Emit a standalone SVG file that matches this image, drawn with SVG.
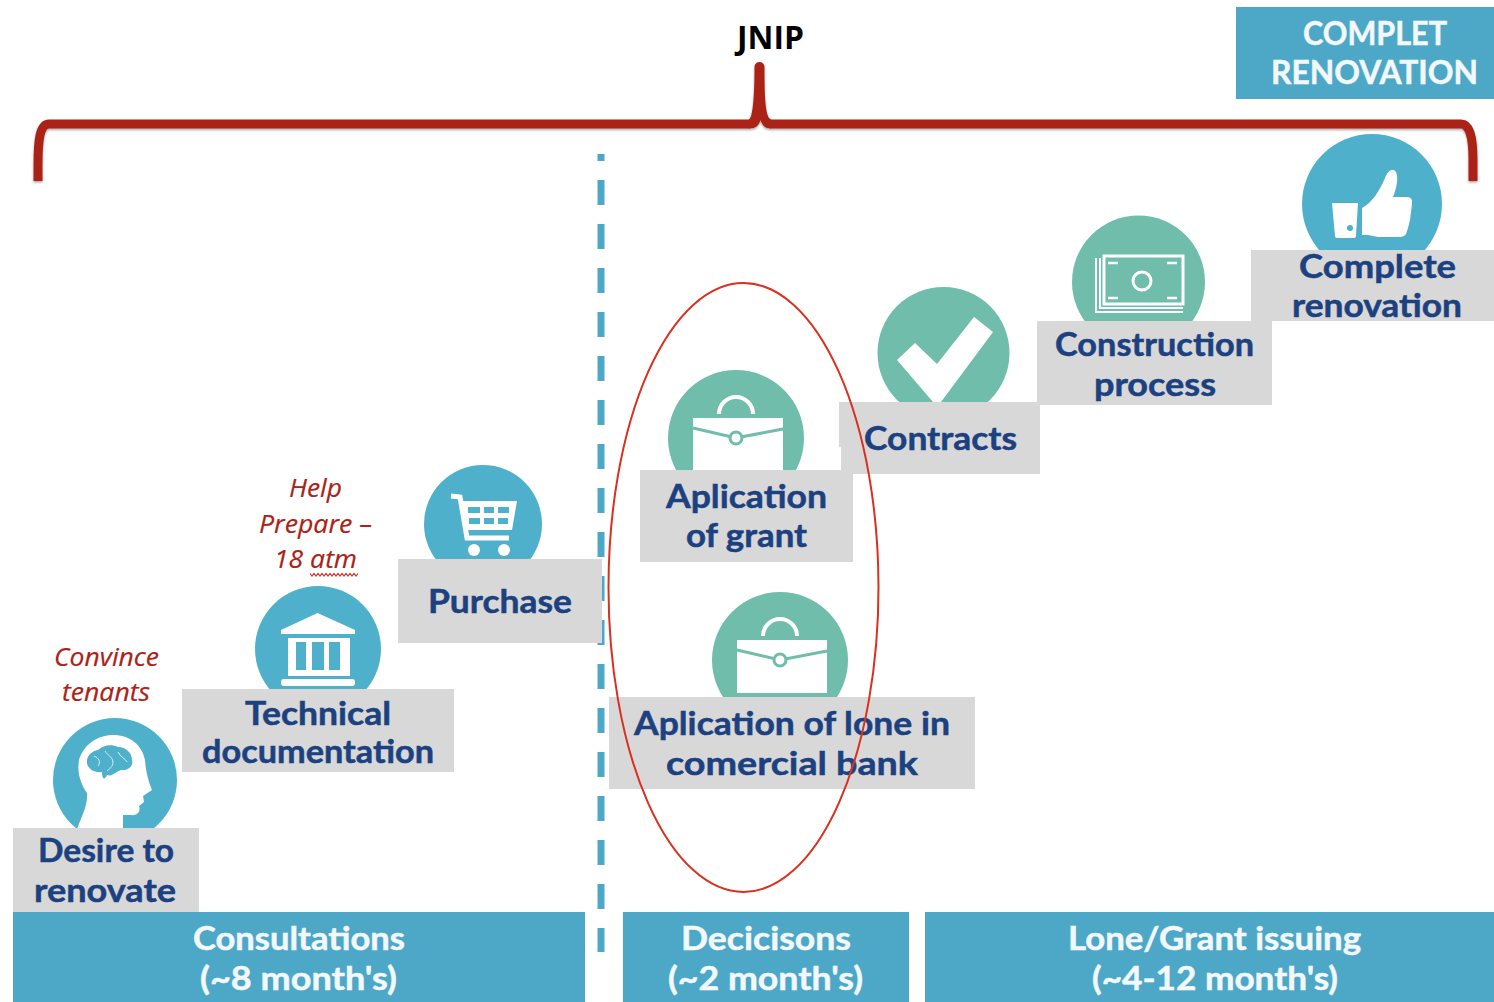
<svg xmlns="http://www.w3.org/2000/svg" xmlns:xlink="http://www.w3.org/1999/xlink" width="1494" height="1002" viewBox="0 0 1494 1002">
<style>
.box{fill:#d8d8d8}
.bar{fill:#4da8c7}
.blue{fill:#4fb0cb}
.teal{fill:#6fbdaa}
.w{fill:#fff}
.lbl{font-family:"Lato","Liberation Sans",sans-serif;font-weight:700;font-size:33px;fill:#1c4180;stroke:#1c4180;stroke-width:.5px}
.hd{font-family:"Lato","Liberation Sans",sans-serif;font-weight:700;font-size:33px;fill:#f2f8fb;stroke:#f2f8fb;stroke-width:.5px}
.note{font-family:"Open Sans","Liberation Sans",sans-serif;font-style:italic;font-size:26px;fill:#ab2317;stroke:#ab2317;stroke-width:.2px}
.jn{font-family:"Open Sans","Liberation Sans",sans-serif;font-weight:700;font-size:33px;fill:#000}
</style>
<defs>
<filter id="soft" x="-2%" y="-10%" width="104%" height="130%"><feDropShadow dx="0" dy="1.5" stdDeviation="1" flood-color="#000" flood-opacity=".35"/></filter>
<g id="brief">
<path d="M719,414A17,17 0 0 1 753,414" fill="none" stroke="#fff" stroke-width="4"/>
<rect x="693" y="418" width="90" height="53" fill="#fff"/>
<path d="M693,428L736,438L783,429" fill="none" stroke="#6fbdaa" stroke-width="3"/>
<circle cx="736" cy="438" r="6" fill="#fff" stroke="#6fbdaa" stroke-width="3"/>
</g>
</defs>
<rect width="1494" height="1002" fill="#fff"/>
<g id="connectors-back">
<path d="M601,154V952" fill="none" stroke="#4da8c7" stroke-width="7" stroke-dasharray="25 19" stroke-dashoffset="18"/>
<g id="bracket" filter="url(#soft)">
<path d="M38,181V165C38,140 40,124 49,124H750M770,124H1461C1469,124 1473,135 1473,160V181" fill="none" stroke="#ab2317" stroke-width="9"/>
<path d="M754.5,67A5,5 0 0 1 764.5,67C764.5,95 765,117 771,119.5V128.5C765,128.5 762,125 760.5,120C759,125 756,128.5 749,128.5V119.5C753,117 754.5,95 754.5,67Z" fill="#ab2317"/>
</g>
</g>
<g id="title"><text class="jn" x="737" y="49" textLength="67" lengthAdjust="spacingAndGlyphs">JNIP</text></g>
<g id="complet-header">
<rect class="bar" x="1236" y="7" width="258" height="92"/>
<text class="hd" x="1303" y="45" textLength="144" lengthAdjust="spacingAndGlyphs">COMPLET</text>
<text class="hd" x="1271" y="84" textLength="207" lengthAdjust="spacingAndGlyphs">RENOVATION</text>
</g>
<g id="desire">
<circle class="blue" cx="115" cy="780" r="62"/>
<path class="w" d="M77,829C82,815 88,805 87,793C80,783 77,772 79,760C84,744 98,735 113,735C130,735 142,745 145,760C146,772 148,780 152,790L143,796L144,802L139,806C141,812 137,816 130,815L123,815L123,829Z"/>
<path class="blue" d="M87,763C86,756 92,751 98,750C103,745 112,744 118,747C126,747 132,753 132,760C134,766 128,771 121,770C115,772 112,777 107,775C105,780 102,780 102,772C96,773 88,770 87,763Z"/>
<path d="M94,756C99,758 101,762 98,766M105,751C108,756 112,756 113,762C113,767 109,769 107,771M118,752C120,757 125,758 127,762" fill="none" stroke="#d6eef4" stroke-width="1"/>
<rect class="box" x="13" y="828" width="186" height="84"/>
<text class="lbl" x="38" y="862" textLength="136" lengthAdjust="spacingAndGlyphs">Desire to</text>
<text class="lbl" x="34" y="902" textLength="142" lengthAdjust="spacingAndGlyphs">renovate</text>
</g>
<g id="desire-note">
<text class="note" x="54" y="666" textLength="105" lengthAdjust="spacingAndGlyphs">Convince</text>
<text class="note" x="62" y="701" textLength="88" lengthAdjust="spacingAndGlyphs">tenants</text>
</g>
<g id="technical">
<circle class="blue" cx="318" cy="649" r="63"/>
<path class="w" d="M317.5,613L355,630V634H281V630Z"/>
<path class="w" fill-rule="evenodd" d="M288,638H350V676H288ZM296,642V670H306V642ZM312,642V670H324V642ZM329,642V670H340V642Z"/>
<rect class="w" x="281" y="679" width="74" height="7" rx="3"/>
<rect class="box" x="182" y="689" width="272" height="83"/>
<text class="lbl" x="245" y="725" textLength="146" lengthAdjust="spacingAndGlyphs">Technical</text>
<text class="lbl" x="202" y="763" textLength="232" lengthAdjust="spacingAndGlyphs">documentation</text>
</g>
<g id="technical-note">
<text class="note" x="289" y="497" textLength="53" lengthAdjust="spacingAndGlyphs">Help</text>
<text class="note" x="259" y="533" textLength="113" lengthAdjust="spacingAndGlyphs">Prepare –</text>
<text class="note" x="274" y="568" textLength="83" lengthAdjust="spacingAndGlyphs">18 atm</text>
<path d="M310,573.5l2,2.5l2,-2.5l2,2.5l2,-2.5l2,2.5l2,-2.5l2,2.5l2,-2.5l2,2.5l2,-2.5l2,2.5l2,-2.5l2,2.5l2,-2.5l2,2.5l2,-2.5l2,2.5l2,-2.5l2,2.5l2,-2.5l2,2.5l2,-2.5l2,2.5l2,-2.5" fill="none" stroke="#c4342a" stroke-width="1.2"/>
</g>
<g id="purchase">
<circle class="blue" cx="483" cy="524" r="59"/>
<path d="M451,496L460,497L467,538H509" fill="none" stroke="#fff" stroke-width="5"/>
<path class="w" fill-rule="evenodd" d="M461,501H517L512,530H466ZM468,507V513H480V507ZM484,507V513H494V507ZM498,507V513H509V507ZM469,518V524H480V518ZM484,518V524H494V518ZM498,518V524H508V518Z"/>
<circle class="w" cx="474" cy="550" r="6"/>
<circle class="w" cx="504" cy="550" r="6"/>
<rect class="box" x="398" y="559" width="204" height="84"/>
<text class="lbl" x="428" y="613" textLength="144" lengthAdjust="spacingAndGlyphs">Purchase</text>
</g>
<g id="grant">
<circle class="teal" cx="736" cy="438" r="68"/>
<use xlink:href="#brief" href="#brief"/>
</g>
<g id="contracts">
<circle class="teal" cx="943.5" cy="353" r="66"/>
<path class="w" d="M897,360L915,343L937,364L974,317L993,332L941,402H933Z"/>
<path class="box" d="M839,402H1040V474H841V447H839Z"/>
<text class="lbl" x="864" y="450" textLength="153" lengthAdjust="spacingAndGlyphs">Contracts</text>
</g>
<g id="grant-label">
<rect class="box" x="640" y="470" width="213" height="92"/>
<text class="lbl" x="666" y="508" textLength="161" lengthAdjust="spacingAndGlyphs">Aplication</text>
<text class="lbl" x="686" y="547" textLength="121" lengthAdjust="spacingAndGlyphs">of grant</text>
</g>
<g id="lone">
<circle class="teal" cx="780" cy="660" r="68"/>
<use xlink:href="#brief" href="#brief" transform="translate(44 222)"/>
<rect class="box" x="609" y="697" width="366" height="92"/>
<text class="lbl" x="634" y="735" textLength="316" lengthAdjust="spacingAndGlyphs">Aplication of lone in</text>
<text class="lbl" x="666" y="775" textLength="252" lengthAdjust="spacingAndGlyphs">comercial bank</text>
</g>
<g id="construction">
<circle class="teal" cx="1138.5" cy="282" r="66.5"/>
<path d="M1096,258V312H1183" fill="none" stroke="#fff" stroke-width="2"/>
<path d="M1100,258V308H1183" fill="none" stroke="#fff" stroke-width="2"/>
<rect x="1104" y="256" width="79" height="48" fill="none" stroke="#fff" stroke-width="3"/>
<circle cx="1142" cy="281" r="9" fill="none" stroke="#fff" stroke-width="3"/>
<path d="M1108,263H1118M1167,263H1177M1108,298H1118M1167,298H1177" stroke="#fff" stroke-width="2.5"/>
<rect class="box" x="1037" y="321" width="235" height="84"/>
<text class="lbl" x="1055" y="356" textLength="199" lengthAdjust="spacingAndGlyphs">Construction</text>
<text class="lbl" x="1094" y="396" textLength="122" lengthAdjust="spacingAndGlyphs">process</text>
</g>
<g id="complete">
<circle class="blue" cx="1372" cy="204" r="70"/>
<path class="w" d="M1332,203H1358L1356,236Q1356,238 1353,238H1337Q1335,238 1335,236Z"/>
<circle class="blue" cx="1350" cy="228" r="3"/>
<path class="w" d="M1362,208C1372,203 1380,190 1385,178C1388,170 1393,168 1396,172C1399,178 1396,190 1393,197H1408Q1413,198 1412,204L1411,212L1410,220L1408,228L1406,234Q1404,237 1400,237H1378L1368,235L1362,235Z"/>
<rect class="box" x="1251" y="250" width="243" height="71"/>
<text class="lbl" x="1299" y="278" textLength="157" lengthAdjust="spacingAndGlyphs">Complete</text>
<text class="lbl" x="1292" y="317" textLength="170" lengthAdjust="spacingAndGlyphs">renovation</text>
</g>
<g id="phase-consultations">
<rect class="bar" x="13" y="912" width="572" height="90"/>
<text class="hd" x="193" y="950" textLength="212" lengthAdjust="spacingAndGlyphs">Consultations</text>
<text class="hd" x="200" y="990" textLength="197" lengthAdjust="spacingAndGlyphs">(~8 month's)</text>
</g>
<g id="phase-decisions">
<rect class="bar" x="623" y="912" width="286" height="90"/>
<text class="hd" x="681" y="950" textLength="170" lengthAdjust="spacingAndGlyphs">Decicisons</text>
<text class="hd" x="668" y="990" textLength="195" lengthAdjust="spacingAndGlyphs">(~2 month's)</text>
</g>
<g id="phase-issuing">
<rect class="bar" x="925" y="912" width="569" height="90"/>
<text class="hd" x="1068" y="950" textLength="293" lengthAdjust="spacingAndGlyphs">Lone/Grant issuing</text>
<text class="hd" x="1092" y="990" textLength="246" lengthAdjust="spacingAndGlyphs">(~4-12 month's)</text>
</g>
<g id="connectors-front">
<ellipse cx="743.5" cy="587.5" rx="135" ry="304.5" fill="none" stroke="#d9301f" stroke-width="2"/>
</g>
</svg>
